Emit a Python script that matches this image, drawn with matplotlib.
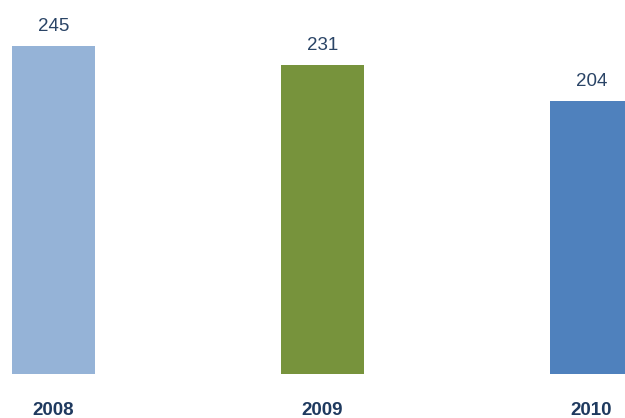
import matplotlib.pyplot as plt

years = ["2008", "2009", "2010"]
values = [245, 231, 204]
colors = ["#95b3d7", "#77933c", "#4f81bd"]

fig = plt.figure(figsize=(6.25, 4.18), dpi=100)
ax = fig.add_axes([0, 0, 1, 1])

x = list(range(len(years)))
ax.bar(x, values, width=0.312, color=colors)

for xi, v in zip(x, values):
    ax.annotate(str(v), (xi, v), xytext=(0, 14), textcoords="offset points",
                ha="center", va="center", fontsize=13.5,
                family="Liberation Sans", color="#2a4466")
    ax.annotate(years[xi], (xi, 0), xytext=(0, -26.5), textcoords="offset points",
                ha="center", va="center", fontsize=13.5, fontweight="bold",
                family="Liberation Sans", color="#1f3a5f")

ax.set_xlim(-0.199, 2.1245)
ax.set_ylim(-32.9, 279.3)
ax.axis("off")

fig.savefig("out.png", dpi=100)
